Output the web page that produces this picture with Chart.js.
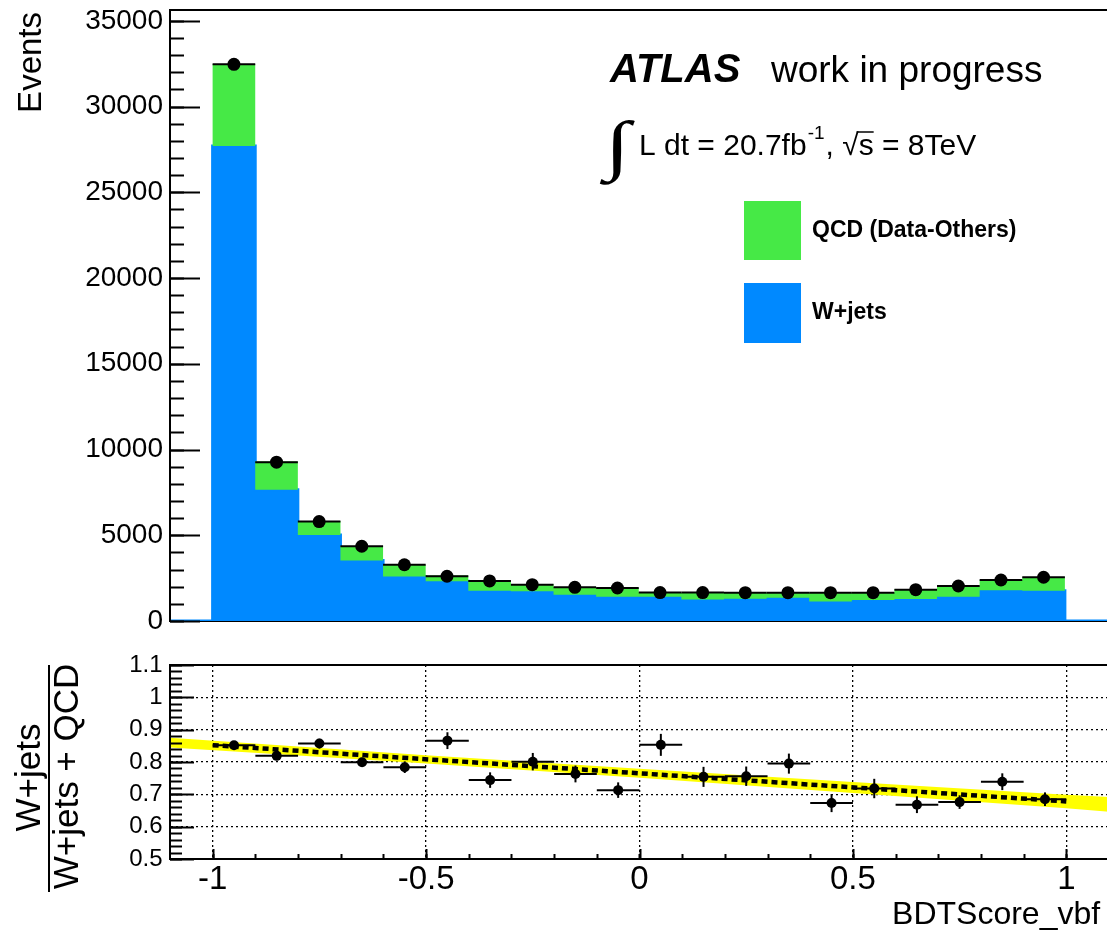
<!DOCTYPE html>
<html lang="en">
<head>
<meta charset="UTF-8">
<title>BDTScore_vbf</title>
<script src="https://cdn.jsdelivr.net/npm/chart.js"></script>
<style>
  body { margin: 0; background: #fff; overflow: hidden; }
  #wrap { position: relative; width: 1107px; height: 933px; overflow: hidden; }
  canvas { position: absolute; left: 0; }
  #top { top: 0; }
  #bottom { top: 640px; }
</style>
</head>
<body>
<div id="wrap">
  <canvas id="top" width="1114" height="640"></canvas>
  <canvas id="bottom" width="1114" height="293"></canvas>
</div>
<script>
// bins of BDTScore_vbf
const binEdges = [-1.0, -0.9, -0.8, -0.7, -0.6, -0.5, -0.4, -0.3, -0.2, -0.1, 0.0,
                  0.1, 0.2, 0.3, 0.4, 0.5, 0.6, 0.7, 0.8, 0.9, 1.0];
const binCenters = [-0.95, -0.85, -0.75, -0.65, -0.55, -0.45, -0.35, -0.25, -0.15, -0.05,
                    0.05, 0.15, 0.25, 0.35, 0.45, 0.55, 0.65, 0.75, 0.85, 0.95];

// upper panel: stacked histograms + data
const wjets = [27700, 7660, 5020, 3530, 2590, 2315, 1770, 1730, 1530, 1410,
               1420, 1255, 1300, 1360, 1140, 1220, 1280, 1420, 1790, 1770];
const qcd = [4780, 1640, 814, 846, 690, 335, 587, 429, 436, 515,
             237, 402, 357, 297, 517, 437, 587, 645, 602, 780];
const dataEvents = [32460, 9260, 5800, 4358, 3280, 2608, 2337, 2120, 1966, 1925,
                    1657, 1657, 1652, 1652, 1652, 1652, 1829, 2042, 2392, 2550];

// lower panel: W+jets / (W+jets + QCD)
const ratio = [0.852, 0.819, 0.857, 0.799, 0.784, 0.866, 0.744, 0.801, 0.763, 0.713,
               0.853, 0.754, 0.756, 0.795, 0.673, 0.718, 0.668, 0.676, 0.739, 0.685];
const ratioErr = [0.008, 0.011, 0.015, 0.014, 0.018, 0.026, 0.024, 0.027, 0.026, 0.024,
                  0.034, 0.031, 0.030, 0.031, 0.028, 0.030, 0.026, 0.021, 0.026, 0.021];

// linear fit and its error band
const fitX = [-1.0, 1.0];
const fitY = [0.852, 0.678];
const bandX = [-1.1, -0.5, 0.0, 0.5, 1.0, 1.1];
const bandHi = [0.875, 0.821, 0.779, 0.738, 0.699, 0.692];
const bandLo = [0.845, 0.795, 0.751, 0.704, 0.657, 0.646];

// axis ticks
const eventTicks = [0, 5000, 10000, 15000, 20000, 25000, 30000, 35000];
const ratioTicks = [0.5, 0.6, 0.7, 0.8, 0.9, 1, 1.1];
const xTicks = [-1, -0.5, 0, 0.5, 1];

const FONT = '"Liberation Sans", Arial, Helvetica, sans-serif';
const BLUE = 'rgb(0,137,255)';
const GREEN = 'rgb(70,233,70)';
const NONE = 'rgba(0,0,0,0)';

Chart.defaults.font.family = FONT;
Chart.defaults.color = '#000';

const stackTop = wjets.map((v, i) => v + qcd[i]);

function histPoints(values) {
    const pts = [{ x: -1.1, y: 0 }];
    values.forEach((v, i) => pts.push({ x: binEdges[i], y: v }));
    pts.push({ x: binEdges[binEdges.length - 1], y: 0 });
    pts.push({ x: 1.1, y: 0 });
    return pts;
}

function noPad(s) {
    s.paddingTop = 0;
    s.paddingBottom = 0;
    s.paddingLeft = 0;
    s.paddingRight = 0;
}

function line(ctx, x1, y1, x2, y2) {
    ctx.beginPath();
    ctx.moveTo(x1, y1);
    ctx.lineTo(x2, y2);
    ctx.stroke();
}

// ROOT style ticks pointing into the frame
function yTicksInward(chart, majors, minorStep, lenMajor, lenMinor) {
    const { ctx, chartArea: a, scales: { y } } = chart;
    ctx.save();
    ctx.strokeStyle = '#000';
    ctx.lineWidth = 2;
    for (let v = y.min; v <= y.max + 1e-9; v += minorStep) {
        const py = Math.round(y.getPixelForValue(v)) + 0.5;
        line(ctx, a.left, py, a.left + lenMinor, py);
    }
    majors.forEach(v => {
        const py = Math.round(y.getPixelForValue(v)) + 0.5;
        line(ctx, a.left, py, a.left + lenMajor, py);
    });
    ctx.restore();
}

function rotatedText(ctx, text, x, y, align) {
    ctx.save();
    ctx.translate(x, y);
    ctx.rotate(-Math.PI / 2);
    ctx.textAlign = align;
    ctx.textBaseline = 'alphabetic';
    ctx.fillText(text, 0, 0);
    ctx.restore();
}

const topDecor = {
    id: 'topDecor',
    afterDatasetsDraw(chart) {
        const { ctx, chartArea: a, scales: { x, y } } = chart;
        ctx.save();
        // horizontal error bars of the data
        ctx.strokeStyle = '#000';
        ctx.lineWidth = 2;
        dataEvents.forEach((v, i) => {
            const py = y.getPixelForValue(v);
            line(ctx, x.getPixelForValue(binEdges[i]), py, x.getPixelForValue(binEdges[i + 1]), py);
        });
        // frame
        line(ctx, a.left, a.top, a.right + 2, a.top);
        line(ctx, a.left, a.top - 1, a.left, a.bottom);
        ctx.restore();
        yTicksInward(chart, eventTicks, 1000, 30, 14);
    },
    afterDraw(chart) {
        const { ctx } = chart;
        ctx.save();
        ctx.fillStyle = '#000';
        ctx.font = '33px ' + FONT;
        rotatedText(ctx, 'Events', 41, 12, 'right');

        ctx.textAlign = 'left';
        ctx.textBaseline = 'alphabetic';
        ctx.font = 'italic bold 40px ' + FONT;
        ctx.fillText('ATLAS', 610, 82);
        ctx.font = '37px ' + FONT;
        ctx.fillText('work in progress', 771, 82);

        // integral sign, widened to look like the ROOT one
        ctx.save();
        ctx.translate(605, 167);
        ctx.scale(1.4, 1);
        ctx.font = 'bold 66px "Liberation Serif", serif';
        ctx.fillText('\u222B', 0, 0);
        ctx.restore();

        let px = 639;
        ctx.font = '30px ' + FONT;
        ctx.fillText('L dt = 20.7fb', px, 155);
        px += ctx.measureText('L dt = 20.7fb').width;
        ctx.font = '19px ' + FONT;
        ctx.fillText('-1', px + 1, 139);
        px += ctx.measureText('-1').width + 2;
        ctx.font = '30px ' + FONT;
        ctx.fillText(', ', px, 155);
        px += ctx.measureText(', ').width;
        ctx.fillText('\u221A', px, 155);
        px += ctx.measureText('\u221A').width;
        ctx.fillText('s', px, 155);
        const sw = ctx.measureText('s').width;
        ctx.strokeStyle = '#000';
        ctx.lineWidth = 1.5;
        line(ctx, px - 2, 132, px + sw, 132);
        px += sw;
        ctx.fillText(' = 8TeV', px, 155);

        // legend
        ctx.fillStyle = GREEN;
        ctx.fillRect(744, 201, 57, 59);
        ctx.fillStyle = BLUE;
        ctx.fillRect(744, 283, 57, 60);
        ctx.fillStyle = '#000';
        ctx.font = 'bold 23px ' + FONT;
        ctx.textBaseline = 'middle';
        ctx.fillText('QCD (Data-Others)', 812, 231);
        ctx.fillText('W+jets', 812, 313);
        ctx.restore();
    }
};

new Chart(document.getElementById('top'), {
    type: 'line',
    data: {
        datasets: [
            {
                label: 'Data',
                type: 'scatter',
                data: binCenters.map((x, i) => ({ x: x, y: dataEvents[i] })),
                pointRadius: 6.5,
                pointBackgroundColor: '#000',
                pointBorderColor: '#000',
                pointBorderWidth: 0,
                showLine: false
            },
            {
                label: 'QCD (Data-Others)',
                data: histPoints(stackTop),
                stepped: 'before',
                borderColor: NONE,
                borderWidth: 0,
                pointRadius: 0,
                backgroundColor: GREEN,
                fill: '+1'
            },
            {
                label: 'W+jets',
                data: histPoints(wjets),
                stepped: 'before',
                borderColor: BLUE,
                borderWidth: 3,
                pointRadius: 0,
                backgroundColor: BLUE,
                fill: 'origin'
            }
        ]
    },
    options: {
        responsive: false,
        animation: false,
        layout: { padding: { top: 10, right: 0, bottom: 0, left: 0 } },
        plugins: { legend: { display: false }, tooltip: { enabled: false } },
        scales: {
            x: {
                type: 'linear', min: -1.1, max: 1.1,
                grid: { display: false, drawTicks: false },
                ticks: { display: false },
                border: { color: '#000', width: 2 },
                afterFit: s => { s.height = 19; noPad(s); }
            },
            y: {
                type: 'linear', min: 0, max: 35630,
                afterBuildTicks: s => { s.ticks = eventTicks.map(v => ({ value: v })); },
                ticks: { font: { size: 28 }, padding: 7, callback: v => String(v) },
                grid: { display: false, drawTicks: false },
                border: { color: '#000', width: 2 },
                afterFit: s => { s.width = 170; noPad(s); }
            }
        }
    },
    plugins: [topDecor]
});

const bottomDecor = {
    id: 'bottomDecor',
    afterDatasetsDraw(chart) {
        const { ctx, chartArea: a, scales: { x, y } } = chart;
        ctx.save();
        ctx.strokeStyle = '#000';
        ctx.lineWidth = 2;
        ratio.forEach((v, i) => {
            const px = x.getPixelForValue(binCenters[i]);
            const py = y.getPixelForValue(v);
            line(ctx, x.getPixelForValue(binEdges[i]), py, x.getPixelForValue(binEdges[i + 1]), py);
            line(ctx, px, y.getPixelForValue(v - ratioErr[i]), px, y.getPixelForValue(v + ratioErr[i]));
        });
        // x ticks
        for (let v = -1.0; v <= 1.0 + 1e-9; v += 0.1) {
            const px = Math.round(x.getPixelForValue(v)) + 0.5;
            line(ctx, px, a.bottom, px, a.bottom - 5);
        }
        xTicks.forEach(v => {
            const px = Math.round(x.getPixelForValue(v)) + 0.5;
            line(ctx, px, a.bottom, px, a.bottom - 10);
        });
        // frame
        ctx.strokeRect(a.left, a.top, a.right - a.left + 2, a.bottom - a.top);
        ctx.restore();
        yTicksInward(chart, ratioTicks, 0.02, 24, 12);
    },
    afterDraw(chart) {
        const { ctx } = chart;
        ctx.save();
        ctx.fillStyle = '#000';
        ctx.font = '35px ' + FONT;
        rotatedText(ctx, 'W+jets', 40, 137.5, 'center');
        rotatedText(ctx, 'W+jets + QCD', 78, 136.5, 'center');
        ctx.strokeStyle = '#000';
        ctx.lineWidth = 2;
        line(ctx, 49, 25, 49, 252);
        ctx.restore();
    }
};

new Chart(document.getElementById('bottom'), {
    type: 'line',
    data: {
        datasets: [
            {
                label: 'W+jets / (W+jets + QCD)',
                type: 'scatter',
                data: binCenters.map((x, i) => ({ x: x, y: ratio[i] })),
                pointRadius: 5,
                pointBackgroundColor: '#000',
                pointBorderColor: '#000',
                pointBorderWidth: 0,
                showLine: false
            },
            {
                label: 'fit',
                data: fitX.map((x, i) => ({ x: x, y: fitY[i] })),
                borderColor: '#000',
                borderWidth: 4.5,
                borderDash: [6, 4],
                borderCapStyle: 'butt',
                pointRadius: 0,
                fill: false
            },
            {
                label: 'band high',
                data: bandX.map((x, i) => ({ x: x, y: bandHi[i] })),
                borderColor: NONE,
                borderWidth: 0,
                pointRadius: 0,
                backgroundColor: 'rgb(255,255,0)',
                fill: '+1'
            },
            {
                label: 'band low',
                data: bandX.map((x, i) => ({ x: x, y: bandLo[i] })),
                borderColor: NONE,
                borderWidth: 0,
                pointRadius: 0,
                fill: false
            }
        ]
    },
    options: {
        responsive: false,
        animation: false,
        layout: { padding: { top: 25, right: 0, bottom: 0, left: 0 } },
        plugins: { legend: { display: false }, tooltip: { enabled: false } },
        scales: {
            x: {
                type: 'linear', min: -1.1, max: 1.1,
                afterBuildTicks: s => { s.ticks = xTicks.map(v => ({ value: v })); },
                ticks: { font: { size: 33 }, padding: 1, callback: v => String(v) },
                grid: { color: '#000', lineWidth: 1.3, drawTicks: false },
                border: { color: '#000', width: 2, dash: [2, 3] },
                title: {
                    display: true, text: 'BDTScore_vbf ', align: 'end',
                    font: { size: 32, lineHeight: 1 }, padding: { top: 0, bottom: 2 }
                },
                afterFit: s => { s.height = 74; noPad(s); }
            },
            y: {
                type: 'linear', min: 0.5, max: 1.1,
                afterBuildTicks: s => { s.ticks = ratioTicks.map(v => ({ value: v })); },
                ticks: { font: { size: 24 }, padding: 7.5, callback: v => String(v) },
                grid: { color: '#000', lineWidth: 1.3, drawTicks: false },
                border: { color: '#000', width: 2, dash: [2, 3] },
                afterFit: s => { s.width = 170; noPad(s); }
            }
        }
    },
    plugins: [bottomDecor]
});
</script>
</body>
</html>
